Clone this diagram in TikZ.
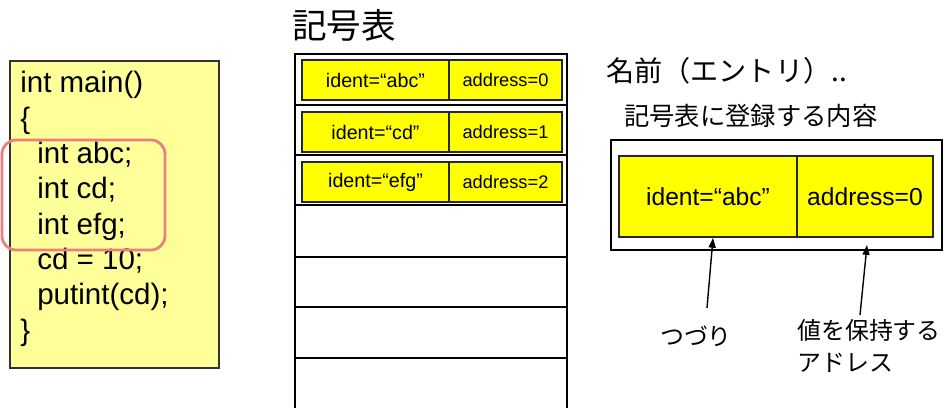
\documentclass[tikz,border=0pt]{standalone}
\usepackage{fontspec}
\setmainfont{Liberation Sans}
\newfontfamily\jp{Noto Sans CJK JP}
\usetikzlibrary{arrows.meta}
\definecolor{codeyellow}{HTML}{FFFF99}
\definecolor{cellyellow}{HTML}{FFFF00}
\definecolor{markred}{HTML}{EC7F7F}

\tikzset{
  codeline/.style={anchor=base west, inner sep=0pt, font=\fontsize{21}{25}\selectfont},
  cell/.style={draw=black!85, fill=cellyellow, line width=1.2pt, inner sep=0pt, minimum height=1cm},
  identcell/.style={cell, minimum width=3.675cm, font=\fontsize{14}{16}\selectfont},
  addrcell/.style={cell, minimum width=2.825cm, font=\fontsize{13}{15}\selectfont},
  bigcell/.style={cell, minimum height=2.025cm, font=\fontsize{17.5}{20}\selectfont},
  jplabel/.style={inner sep=0pt, font=\jp\fontsize{17}{22.7}\selectfont},
}

\begin{document}
\begin{tikzpicture}[x=0.025cm,y=-0.025cm]
%\draw[help lines] (0,0) grid (945,407);
\useasboundingbox (0,0) rectangle (945,407);

% program
\draw [fill=codeyellow, draw=black!80, line width=1pt] (10,61) rectangle (219,368);
\node (l_1) [codeline] at (20,93) {int main()};
\node (l_2) [codeline] at (20,128.3) {\{};
\node (l_3) [codeline] at (37,163.6) {int abc;};
\node (l_4) [codeline] at (37,198.9) {int cd;};
\node (l_5) [codeline] at (37,234.2) {int efg;};
\node (l_6) [codeline] at (37,269.5) {cd = 10;};
\node (l_7) [codeline] at (37,304.8) {putint(cd);};
\node (l_8) [codeline] at (20,340.1) {\}};
\draw [markred, line width=2pt, rounded corners=0.35cm] (2,140) rectangle (165,250);

% symbol table
\node (title) [anchor=west, inner sep=0pt, font=\jp\fontsize{24.6}{26}\selectfont] at (292,25) {記号表};
\draw [line width=1.2pt] (295,54) rectangle (567,105);
\draw [line width=1.2pt] (295,105) rectangle (567,155);
\draw [line width=1.2pt] (295,155) rectangle (567,205);
\draw [line width=1.2pt] (295,205) rectangle (567,257);
\draw [line width=1.2pt] (295,257) rectangle (567,307);
\draw [line width=1.2pt] (295,307) rectangle (567,358);
\draw [line width=1.2pt] (295,358) rectangle (567,420);
\node (id_1) [identcell] at (375.5,80) {ident=“abc”};
\node (ad_1) [addrcell] at (505.5,80) {address=0};
\node (id_2) [identcell] at (375.5,132) {ident=“cd”};
\node (ad_2) [addrcell] at (505.5,132) {address=1};
\node (id_3) [identcell] at (375.5,182) {ident=“efg”};
\node (ad_3) [addrcell] at (505.5,182) {address=2};

% one entry
\node (entry) [anchor=west, inner sep=0pt, font=\jp\fontsize{20}{22}\selectfont] at (606,71) {名前（エントリ）..};
\node (content) [anchor=west, inner sep=0pt, font=\jp\fontsize{18}{20}\selectfont] at (624,116) {記号表に登録する内容};
\draw [line width=1pt] (611,140) rectangle (942,250);
\node (id_big) [bigcell, minimum width=4.45cm] at (708,196.5) {ident=“abc”};
\node (ad_big) [bigcell, minimum width=3.4cm] at (865,196.5) {address=0};
\node (tsuzuri) [jplabel] at (696,336) {つづり};
\node (addrlabel) [jplabel, anchor=north west, align=left] at (797,319) {値を保持する\\アドレス};
\coordinate (t_1) at (707,308);
\coordinate (t_2) at (860,315);
\coordinate (h_2) at (867,245);

\path
(t_1) edge [-{Triangle[length=7pt,width=5pt]}, line width=1pt] (id_big.south -| 713,0)
(t_2) edge [-{Triangle[length=7pt,width=5pt]}, line width=1pt] (h_2);
\end{tikzpicture}
\end{document}
